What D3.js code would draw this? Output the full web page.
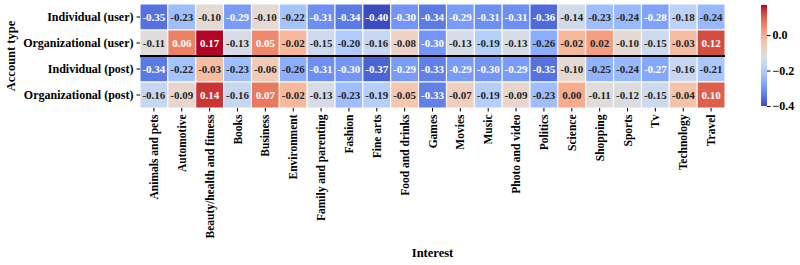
<!DOCTYPE html>
<html lang="en">
<head>
<meta charset="UTF-8">
<title>Account type vs interest heatmap</title>
<script src="https://cdn.jsdelivr.net/npm/d3@7"></script>
<style>
	body{ margin:0; background:#fff; }
	text{ font-family:"Liberation Serif","Times New Roman",serif; font-weight:bold; fill:#000; }
	.cell{ stroke:#fff; stroke-width:1; }
	.tick line{ stroke:#000; }
	.domain{ display:none; }
</style>
</head>
<body>
<div id="chart"></div>
<script>
var interests = ["Animals and pets","Automotive","Beauty/health and fitness","Books","Business","Environment",
	"Family and parenting","Fashion","Fine arts","Food and drinks","Games","Movies","Music","Photo and video",
	"Politics","Science","Shopping","Sports","Tv","Technology","Travel"];

var accountTypes = ["Individual (user)","Organizational (user)","Individual (post)","Organizational (post)"];

var indivUser = [-0.35,-0.23,-0.10,-0.29,-0.10,-0.22,-0.31,-0.34,-0.40,-0.30,-0.34,-0.29,-0.31,-0.31,-0.36,-0.14,-0.23,-0.24,-0.28,-0.18,-0.24];
var orgUser   = [-0.11,0.06,0.17,-0.13,0.05,-0.02,-0.15,-0.20,-0.16,-0.08,-0.30,-0.13,-0.19,-0.13,-0.26,-0.02,0.02,-0.10,-0.15,-0.03,0.12];
var indivPost = [-0.34,-0.22,-0.03,-0.23,-0.06,-0.26,-0.31,-0.30,-0.37,-0.29,-0.33,-0.29,-0.30,-0.29,-0.35,-0.10,-0.25,-0.24,-0.27,-0.16,-0.21];
var orgPost   = [-0.16,-0.09,0.14,-0.16,0.07,-0.02,-0.13,-0.23,-0.19,-0.05,-0.33,-0.07,-0.19,-0.09,-0.23,0.00,-0.11,-0.12,-0.15,-0.04,0.10];

var colorbarTicks = [0.0, -0.2, -0.4];

var rows = [indivUser, orgUser, indivPost, orgPost];
var vmin = -0.40, vmax = 0.17;

// coolwarm (Moreland) control points
var cw = [[59,76,192],[68,90,204],[77,104,215],[87,117,225],[98,130,234],[108,142,241],[119,154,247],[130,165,251],
	[141,176,254],[152,185,255],[163,194,255],[174,201,253],[184,208,249],[194,213,244],[204,217,238],[213,219,230],
	[221,221,221],[229,216,209],[236,211,197],[241,204,185],[245,196,173],[247,187,160],[247,177,148],[247,166,135],
	[244,154,123],[241,141,111],[236,127,99],[229,112,88],[222,96,77],[213,80,66],[203,62,56],[192,40,47],[180,4,38]];
var coolwarm = d3.scaleLinear()
	.domain(cw.map(function(d,i){ return i/(cw.length-1); }))
	.range(cw.map(function(c){ return d3.rgb(c[0],c[1],c[2]); }))
	.interpolate(d3.interpolateRgb)
	.clamp(true);

var color = function(v){ return coolwarm((v - vmin)/(vmax - vmin)); };

function textColor(c){
	var rgb = d3.rgb(c);
	var lin = [rgb.r, rgb.g, rgb.b].map(function(x){
		x = x/255;
		return x <= 0.03928 ? x/12.92 : Math.pow((x+0.055)/1.055, 2.4);
	});
	var lum = 0.2126*lin[0] + 0.7152*lin[1] + 0.0722*lin[2];
	return lum > 0.408 ? "#262626" : "#fff";
}

var width = 800, height = 265,
	margin = {left:140, top:4, right:75, bottom:157};

var svg = d3.select("#chart").append("svg")
	.attr("width", width)
	.attr("height", height);

var x = d3.scaleBand()
	.domain(interests)
	.range([margin.left, width - margin.right]);

var y = d3.scaleBand()
	.domain(accountTypes)
	.range([margin.top, height - margin.bottom]);

var cells = [];
rows.forEach(function(vals, r){
	vals.forEach(function(v, c){
		cells.push({row:accountTypes[r], col:interests[c], value:v});
	});
});

var g = svg.append("g");

g.selectAll("rect.cell")
	.data(cells)
	.enter()
	.append("rect")
	.attr("class","cell")
	.attr("x", function(d){ return x(d.col); })
	.attr("y", function(d){ return y(d.row); })
	.attr("width", x.bandwidth())
	.attr("height", y.bandwidth())
	.attr("fill", function(d){ return color(d.value); });

g.selectAll("text.annot")
	.data(cells)
	.enter()
	.append("text")
	.attr("class","annot")
	.attr("x", function(d){ return x(d.col) + x.bandwidth()/2; })
	.attr("y", function(d){ return y(d.row) + y.bandwidth()/2; })
	.attr("text-anchor","middle")
	.attr("dy","0.35em")
	.style("font-size","11px")
	.style("fill", function(d){ return textColor(color(d.value)); })
	.text(function(d){ return d.value.toFixed(2); });

// separator between user and post rows
svg.append("line")
	.attr("x1", margin.left)
	.attr("x2", width - margin.right)
	.attr("y1", y(accountTypes[2]))
	.attr("y2", y(accountTypes[2]))
	.attr("stroke","#000")
	.attr("stroke-width",2.2);

var yAxis = svg.append("g")
	.attr("transform","translate(" + margin.left + ",0)")
	.call(d3.axisLeft(y).tickSize(3.5).tickPadding(3));
yAxis.selectAll("text").style("font-size","12px");

var xAxis = svg.append("g")
	.attr("transform","translate(0," + (height - margin.bottom) + ")")
	.call(d3.axisBottom(x).tickSize(3.5).tickPadding(3));
xAxis.selectAll("text")
	.style("font-size","11.5px")
	.attr("transform","rotate(-90)")
	.attr("text-anchor","end")
	.attr("x", -6.5)
	.attr("y", 0)
	.attr("dy","0.35em");

svg.append("text")
	.attr("x", (margin.left + width - margin.right)/2)
	.attr("y", 257)
	.attr("text-anchor","middle")
	.style("font-size","12.5px")
	.text("Interest");

svg.append("text")
	.attr("transform","translate(15," + ((margin.top + height - margin.bottom)/2) + ") rotate(-90)")
	.attr("text-anchor","middle")
	.style("font-size","12.5px")
	.text("Account type");

// colour bar
var cbX = 761, cbW = 6, cbTop = 5, cbBottom = 106;
var cbScale = d3.scaleLinear().domain([vmin, vmax]).range([cbBottom, cbTop]);

var defs = svg.append("defs");
var grad = defs.append("linearGradient")
	.attr("id","cbGrad")
	.attr("x1","0").attr("y1","1").attr("x2","0").attr("y2","0");
d3.range(0, 1.0001, 0.05).forEach(function(t){
	grad.append("stop")
		.attr("offset", t)
		.attr("stop-color", coolwarm(t));
});

svg.append("rect")
	.attr("x", cbX)
	.attr("y", cbTop)
	.attr("width", cbW)
	.attr("height", cbBottom - cbTop)
	.attr("fill","url(#cbGrad)");

var cbAxis = svg.append("g")
	.attr("transform","translate(" + (cbX + cbW) + ",0)")
	.call(d3.axisRight(cbScale)
		.tickValues(colorbarTicks)
		.tickSize(3.5)
		.tickPadding(2)
		.tickFormat(function(d){ return d3.format(".1f")(d).replace("-", "\u2212"); }));
cbAxis.selectAll("text").style("font-size","12px");
</script>
</body>
</html>
